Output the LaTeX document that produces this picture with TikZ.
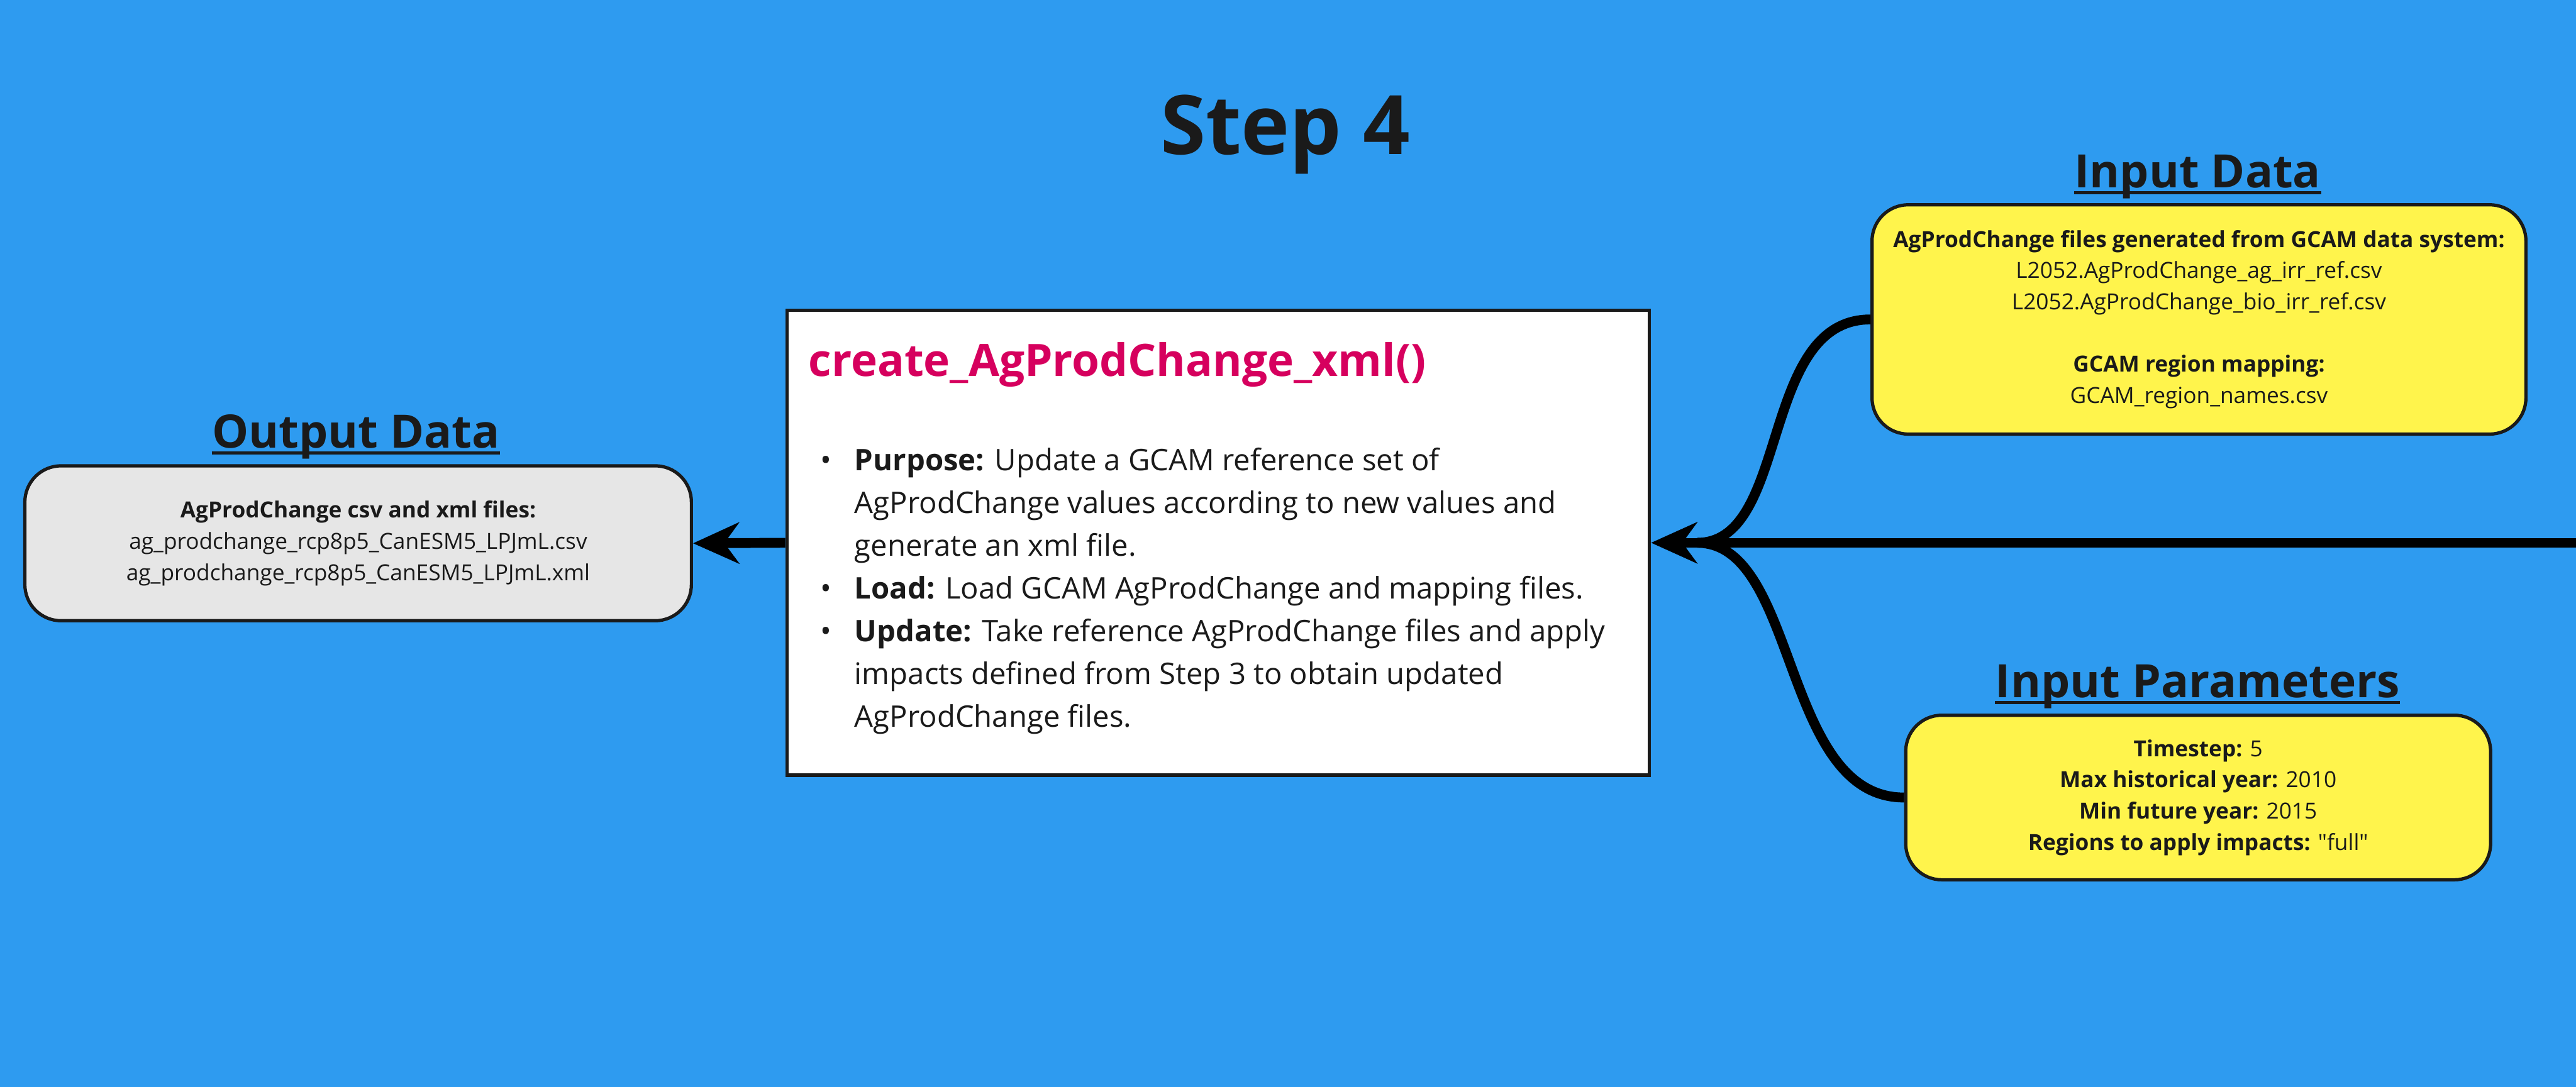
\documentclass[tikz,border=0pt]{standalone}
\usepackage{fontspec}
\setmainfont{Open Sans}
\newfontfamily\qfont{Open Sans}[Ligatures=ResetAll]
\usetikzlibrary{arrows.meta}
\definecolor{bg}{RGB}{46,155,240}
\definecolor{ink}{RGB}{26,26,26}
\definecolor{yel}{RGB}{255,244,76}
\definecolor{gry}{RGB}{230,230,230}
\definecolor{mag}{RGB}{214,0,94}
\begin{document}
\begin{tikzpicture}[x=1pt,y=-1pt,
  conn/.style={line width=6pt, draw=black},
  tipped/.style={-{Stealth[length=28pt,width=25pt,inset=9pt]}},
  heading/.style={font=\bfseries\fontsize{28}{34}\selectfont, text=ink, inner sep=0pt, anchor=base},
  uline/.style={draw=ink, line width=2pt},
  databox/.style={draw=ink, line width=2pt, rounded corners=22pt, align=center, text=ink,
    font=\fontsize{13.5}{19}\selectfont, inner sep=0pt},
  ybox/.style={databox, fill=yel},
  gbox/.style={databox, fill=gry},
  mainbox/.style={draw=ink, line width=2pt, fill=white, inner sep=0pt}
]
\fill[bg] (0,0) rectangle (1568,661.84);
\useasboundingbox (0,0) rectangle (1568,661.84);

% title
\node[heading, font=\bfseries\fontsize{50}{60}\selectfont] (step) at (782.3,94) {Step 4};

% headings
\node[heading] (hin) at (1337.7,114.3) {Input Data};
\draw[uline] ([yshift=-3pt]hin.base west) -- ([yshift=-3pt]hin.base east);
\node[heading] (hpar) at (1337.7,424.8) {Input Parameters};
\draw[uline] ([yshift=-3pt]hpar.base west) -- ([yshift=-3pt]hpar.base east);
\node[heading] (hout) at (216.6,272.9) {Output Data};
\draw[uline] ([yshift=-3pt]hout.base west) -- ([yshift=-3pt]hout.base east);

% boxes
\node[ybox, minimum width=398pt, minimum height=139.6pt] (indata) at (1338.5,194.5)
 {\textbf{AgProdChange files generated from GCAM data system:}\\
  L2052.AgProdChange\_ag\_irr\_ref.csv\\
  L2052.AgProdChange\_bio\_irr\_ref.csv\\[19pt]
  \textbf{GCAM region mapping:}\\
  GCAM\_region\_names.csv};

\node[ybox, minimum width=356pt, minimum height=100.2pt] (params) at (1338,485.6)
 {\textbf{Timestep:} 5\\
  \textbf{Max historical year:} 2010\\
  \textbf{Min future year:} 2015\\
  \textbf{Regions to apply impacts:} {\qfont "full"}};

\node[gbox, minimum width=405.7pt, minimum height=94.3pt] (output) at (218,330.8)
 {\textbf{AgProdChange csv and xml files:}\\
  ag\_prodchange\_rcp8p5\_CanESM5\_LPJmL.csv\\
  ag\_prodchange\_rcp8p5\_CanESM5\_LPJmL.xml};

\node[mainbox, minimum width=525pt, minimum height=283pt] (main) at (741.5,330.5) {};
\node[anchor=base west, inner sep=0pt, text=mag, font=\bfseries\fontsize{27.2}{32}\selectfont] (ttl) at (492,229)
 {create\_AgProdChange\_xml()};
\node[anchor=base west, inner sep=0pt, text=ink, font=\fontsize{18.1}{26}\selectfont] (body) at (499,286.7)
 {\begin{tabular}[t]{@{}p{21pt}@{}l@{}}
  •&\textbf{Purpose:} Update a GCAM reference set of\\
  &AgProdChange values according to new values and\\
  &generate an xml file.\\
  •&\textbf{Load:} Load GCAM AgProdChange and mapping files.\\
  •&\textbf{Update:} Take reference AgProdChange files and apply\\
  &impacts defined from Step 3 to obtain updated\\
  &AgProdChange files.
 \end{tabular}};

% connectors
\coordinate (edge) at (1568,330.5);
\coordinate (merge) at (1033,330.5);
\draw[conn] (indata.west) .. controls +(-68,0) and +(57,0) .. (merge);
\draw[conn] (params.west) .. controls +(-75,0) and +(62,0) .. (merge);
\draw[conn, tipped] (edge) -- (main.east);
\draw[conn, tipped] (main.west) -- (output.east);
\end{tikzpicture}
\end{document}
